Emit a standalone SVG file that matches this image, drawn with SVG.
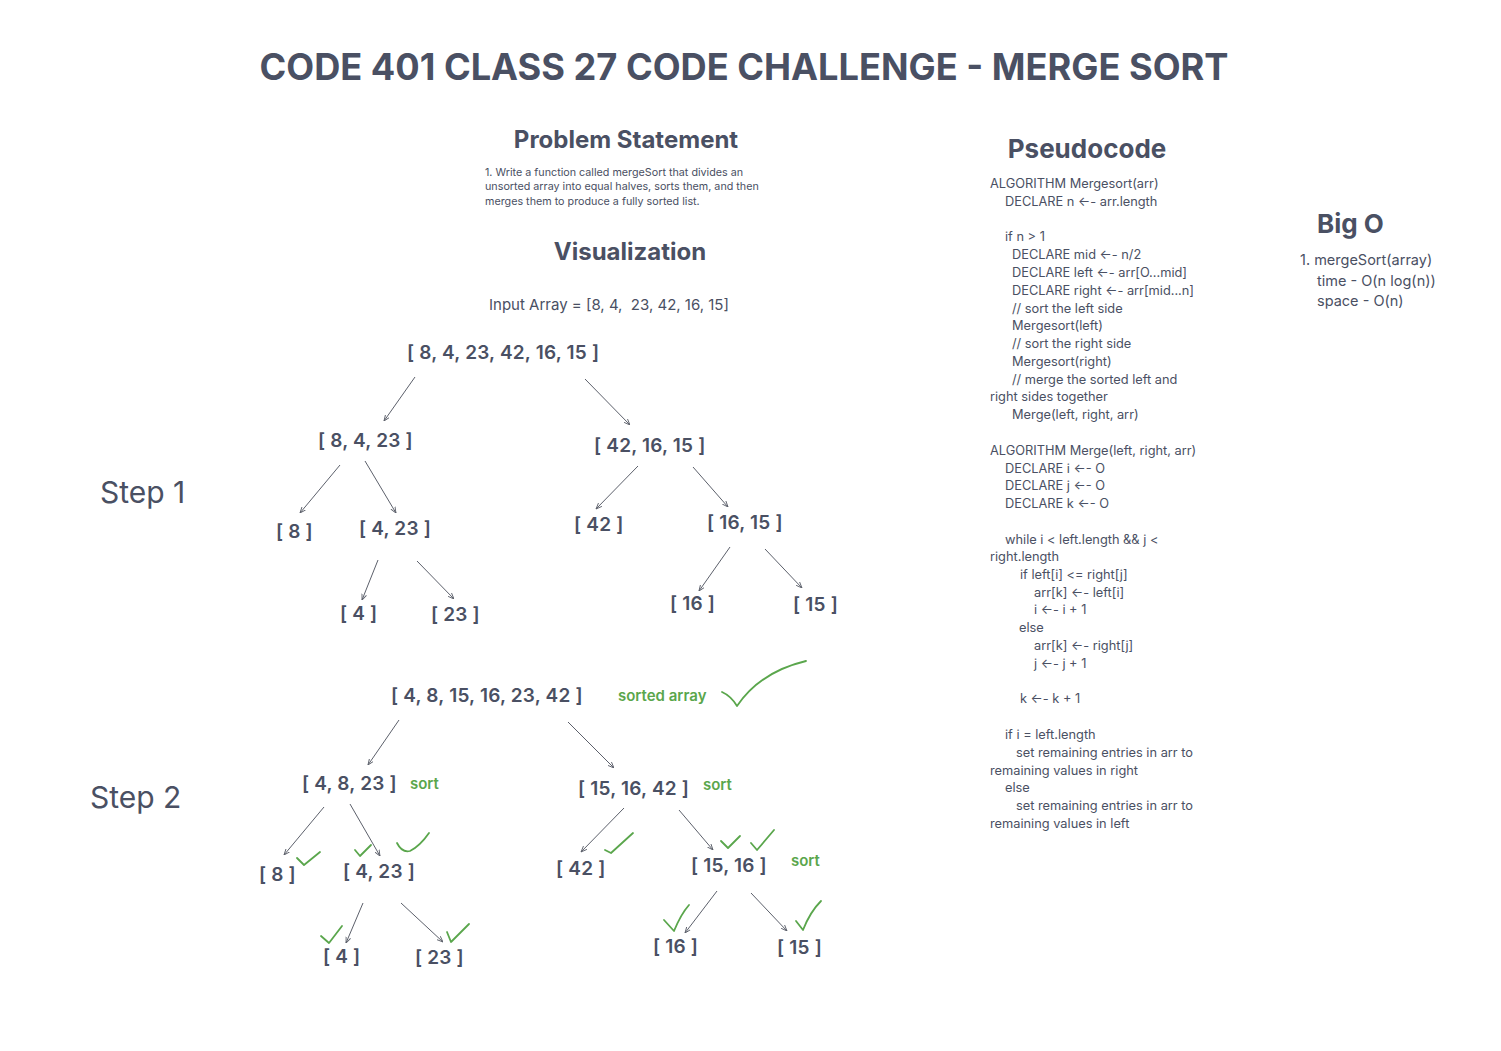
<svg xmlns="http://www.w3.org/2000/svg" width="1501" height="1051" viewBox="0 0 1501 1051">
<defs>
<style>
text{font-family:Inter,"Noto Sans","Liberation Sans",sans-serif;fill:#4a5063}
.title{font-size:36.2px;font-weight:700}
.h{font-size:24px;font-weight:700}
.h26{font-size:26px;font-weight:700}
.body{font-size:10.75px}
.code{font-size:12.8px}
.bigo{font-size:14.5px}
.step{font-size:30px}
.node{font-size:19px;font-weight:600;letter-spacing:0.2px}
.green{fill:#5aa64c;font-size:15px;font-weight:600}
.conn line{stroke:#5c606b;stroke-width:1;marker-end:url(#ah)}
.check{fill:none;stroke:#5aa64c;stroke-width:1.8;stroke-linecap:round;stroke-linejoin:round}
</style>
<marker id="ah" viewBox="0 0 10 10" refX="10" refY="5" markerWidth="6" markerHeight="6" orient="auto" markerUnits="userSpaceOnUse">
<path d="M0,1 L10,5 L0,9" fill="none" stroke="#5c606b" stroke-width="1.5"/>
</marker>
</defs>
<rect width="1501" height="1051" fill="#ffffff"/>

<g id="title"><text class="title" x="744" y="80" text-anchor="middle">CODE 401 CLASS 27 CODE CHALLENGE - MERGE SORT</text></g>

<g id="problem-statement">
<text class="h" x="626" y="148" text-anchor="middle">Problem Statement</text>
<text class="body" x="485" y="176">1. Write a function called mergeSort that divides an</text>
<text class="body" x="485" y="190">unsorted array into equal halves, sorts them, and then</text>
<text class="body" x="485" y="205">merges them to produce a fully sorted list.</text>
</g>

<g id="visualization">
<text class="h" x="630" y="260" text-anchor="middle">Visualization</text>
<text x="489" y="310" font-size="15" xml:space="preserve">Input Array = [8, 4,  23, 42, 16, 15]</text>
</g>

<g id="pseudocode">
<text class="h26" x="1087" y="158" text-anchor="middle">Pseudocode</text>
<g class="code">
<text class="code" x="990" y="188">ALGORITHM Mergesort(arr)</text>
<text class="code" x="1005" y="206">DECLARE n ←- arr.length</text>
<text class="code" x="1005" y="241">if n &gt; 1</text>
<text class="code" x="1012" y="259">DECLARE mid ←- n/2</text>
<text class="code" x="1012" y="277">DECLARE left ←- arr[O...mid]</text>
<text class="code" x="1012" y="295">DECLARE right ←- arr[mid...n]</text>
<text class="code" x="1012" y="313">// sort the left side</text>
<text class="code" x="1012" y="330">Mergesort(left)</text>
<text class="code" x="1012" y="348">// sort the right side</text>
<text class="code" x="1012" y="366">Mergesort(right)</text>
<text class="code" x="1012" y="384">// merge the sorted left and</text>
<text class="code" x="990" y="401">right sides together</text>
<text class="code" x="1012" y="419">Merge(left, right, arr)</text>
<text class="code" x="990" y="455">ALGORITHM Merge(left, right, arr)</text>
<text class="code" x="1005" y="473">DECLARE i ←- O</text>
<text class="code" x="1005" y="490">DECLARE j ←- O</text>
<text class="code" x="1005" y="508">DECLARE k ←- O</text>
<text class="code" x="1005" y="544">while i &lt; left.length &amp;&amp; j &lt;</text>
<text class="code" x="990" y="561">right.length</text>
<text class="code" x="1020" y="579">if left[i] &lt;= right[j]</text>
<text class="code" x="1034" y="597">arr[k] ←- left[i]</text>
<text class="code" x="1034" y="614">i ←- i + 1</text>
<text class="code" x="1019" y="632">else</text>
<text class="code" x="1034" y="650">arr[k] ←- right[j]</text>
<text class="code" x="1034" y="668">j ←- j + 1</text>
<text class="code" x="1020" y="703">k ←- k + 1</text>
<text class="code" x="1005" y="739">if i = left.length</text>
<text class="code" x="1016" y="757">set remaining entries in arr to</text>
<text class="code" x="990" y="775">remaining values in right</text>
<text class="code" x="1005" y="792">else</text>
<text class="code" x="1016" y="810">set remaining entries in arr to</text>
<text class="code" x="990" y="828">remaining values in left</text>
</g>
</g>

<g id="big-o">
<text class="h26" x="1317" y="233">Big O</text>
<text class="bigo" x="1300" y="265">1. mergeSort(array)</text>
<text class="bigo" x="1317" y="286">time - O(n log(n))</text>
<text class="bigo" x="1317" y="306">space - O(n)</text>
</g>

<g id="step1-label"><text class="step" x="100" y="503">Step 1</text></g>
<g id="step2-label"><text class="step" x="90" y="808">Step 2</text></g>

<!-- Step 1 nodes -->
<g id="s1-root"><text class="node" x="407" y="359">[ 8, 4, 23, 42, 16, 15 ]</text></g>
<g id="s1-l"><text class="node" x="318" y="447">[ 8, 4, 23 ]</text></g>
<g id="s1-r"><text class="node" x="594" y="452">[ 42, 16, 15 ]</text></g>
<g id="s1-ll"><text class="node" x="276" y="538">[ 8 ]</text></g>
<g id="s1-lr"><text class="node" x="359" y="535">[ 4, 23 ]</text></g>
<g id="s1-rl"><text class="node" x="574" y="531">[ 42 ]</text></g>
<g id="s1-rr"><text class="node" x="707" y="529">[ 16, 15 ]</text></g>
<g id="s1-lrl"><text class="node" x="340" y="620">[ 4 ]</text></g>
<g id="s1-lrr"><text class="node" x="431" y="621">[ 23 ]</text></g>
<g id="s1-rrl"><text class="node" x="670" y="610">[ 16 ]</text></g>
<g id="s1-rrr"><text class="node" x="793" y="611">[ 15 ]</text></g>

<!-- Step 2 nodes -->
<g id="s2-root"><text class="node" x="391" y="702">[ 4, 8, 15, 16, 23, 42 ]</text><text class="green" x="618" y="701">sorted array</text></g>
<g id="s2-l"><text class="node" x="302" y="790">[ 4, 8, 23 ]</text><text class="green" x="410" y="789">sort</text></g>
<g id="s2-r"><text class="node" x="578" y="795">[ 15, 16, 42 ]</text><text class="green" x="703" y="790">sort</text></g>
<g id="s2-ll"><text class="node" x="259" y="881">[ 8 ]</text></g>
<g id="s2-lr"><text class="node" x="343" y="878">[ 4, 23 ]</text></g>
<g id="s2-rl"><text class="node" x="556" y="875">[ 42 ]</text></g>
<g id="s2-rr"><text class="node" x="691" y="872">[ 15, 16 ]</text><text class="green" x="791" y="866">sort</text></g>
<g id="s2-lrl"><text class="node" x="323" y="963">[ 4 ]</text></g>
<g id="s2-lrr"><text class="node" x="415" y="964">[ 23 ]</text></g>
<g id="s2-rrl"><text class="node" x="653" y="953">[ 16 ]</text></g>
<g id="s2-rrr"><text class="node" x="777" y="954">[ 15 ]</text></g>

<g id="connectors" class="conn">
<line x1="415" y1="377" x2="384" y2="421"/>
<line x1="585" y1="379" x2="630" y2="425"/>
<line x1="340" y1="465" x2="300" y2="513"/>
<line x1="365" y1="461" x2="396" y2="513"/>
<line x1="378" y1="560" x2="362" y2="600"/>
<line x1="417" y1="561" x2="454" y2="599"/>
<line x1="638" y1="466" x2="596" y2="509"/>
<line x1="693" y1="467" x2="728" y2="507"/>
<line x1="730" y1="547" x2="699" y2="591"/>
<line x1="765" y1="549" x2="802" y2="588"/>

<line x1="399" y1="720" x2="368" y2="765"/>
<line x1="568" y1="722" x2="614" y2="768"/>
<line x1="324" y1="807" x2="284" y2="855"/>
<line x1="350" y1="804" x2="380" y2="856"/>
<line x1="624" y1="808" x2="581" y2="852"/>
<line x1="679" y1="810" x2="713" y2="850"/>
<line x1="363" y1="903" x2="346" y2="943"/>
<line x1="401" y1="903" x2="443" y2="942"/>
<line x1="717" y1="891" x2="685" y2="933"/>
<line x1="751" y1="893" x2="787" y2="931"/>
</g>

<g id="checkmarks">
<path class="check" d="M722,692 Q731,696 737,706 Q760,672 806,661"/>
<path class="check" d="M297,858 L304,865 L320,852"/>
<path class="check" d="M355,850 L360,856 L371,845"/>
<path class="check" d="M397,843 Q402,853 410,851 Q420,846 429,833"/>
<path class="check" d="M605,850 L611,853 L633,833"/>
<path class="check" d="M721,841 L728,848 L740,836"/>
<path class="check" d="M751,843 L757,850 L774,830"/>
<path class="check" d="M664,920 L674,931 Q681,914 689,905"/>
<path class="check" d="M796,921 L803,930 Q810,912 821,901"/>
<path class="check" d="M321,936 L329,943 L342,926"/>
<path class="check" d="M447,932 L451,942 L469,924"/>
</g>
</svg>
